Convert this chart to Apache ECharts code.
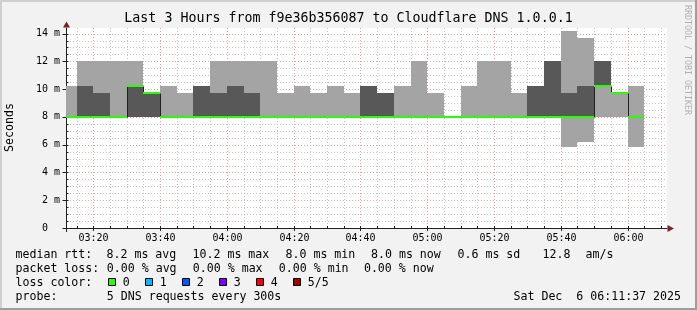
<!DOCTYPE html>
<html><head><meta charset="utf-8">
<script src="https://cdn.jsdelivr.net/npm/echarts@6/dist/echarts.min.js"></script>
<style>html,body{margin:0;padding:0;background:#f2f2f2;}#c{width:697px;height:310px;}</style>
</head><body><div id="c"></div>
<script>
// ---- data (5-minute RRD steps, value = end time of the step) ----
const times = ['03:15','03:20','03:25','03:30','03:35','03:40','03:45','03:50','03:55',
  '04:00','04:05','04:10','04:15','04:20','04:25','04:30','04:35','04:40','04:45','04:50','04:55',
  '05:00','05:05','05:10','05:15','05:20','05:25','05:30','05:35','05:40','05:45','05:50','05:55',
  '06:00','06:05'];
// sorted ping values (ms): p1 = fastest ... p5 = slowest, p3 = median
const p1 = [8,8,8,8,8,8,8,8,8,8, 8,8,8,8,8,8,8,8,8,8, 8,8,8,8,8,8,8,8,8,8, 5.8,6.2,8,8,5.8];
const p2 = [8,8,8,8,8,8,8,8,8,8, 8,8,8,8,8,8,8,8,8,8, 8,8,8,8,8,8,8,8,8,8, 8,8,10.2,9.7,8];
const p3 = [8,8,8,8,10.2,9.7,8,8,8,8, 8,8,8,8,8,8,8,8,8,8, 8,8,8,8,8,8,8,8,8,8, 8,8,10.2,9.7,8];
const p4 = [8,10.2,9.7,8,10.2,9.7,8,8,10.2,9.7, 10.2,9.7,8,8,8,8,8,8,10.2,9.7, 8,8,8,8,8,8,8,8,10.2,12, 9.7,10.2,12,9.7,8];
const p5 = [10.2,12,12,12,12,9.7,10.2,9.7,10.2,12, 12,12,12,9.7,10.2,9.7,10.2,9.7,10.2,9.7, 10.2,12,9.7,8,10.2,12,12,9.7,10.2,12, 14.2,13.7,12,9.7,10.2];
const loss = [0,0,0,0,0,0,0,0,0,0, 0,0,0,0,0,0,0,0,0,0, 0,0,0,0,0,0,0,0,0,0, 0,0,0,0,0];
const xTickLabels = ['03:20','03:40','04:00','04:20','04:40','05:00','05:20','05:40','06:00'];
const yTicks = [0,2,4,6,8,10,12,14];
const lossLabels = ['0','1','2','3','4','5/5'];
const lossColors = ['#26ff00','#00b8ff','#0059ff','#7e00ff','#ff0000','#a10000'];
const title = 'Last 3 Hours from f9e36b356087 to Cloudflare DNS 1.0.0.1';
const rttStats = ['median rtt:','8.2 ms avg','10.2 ms max','8.0 ms min','8.0 ms now','0.6 ms sd','12.8','am/s'];
const lossStats = ['packet loss:','0.00 % avg','0.00 % max','0.00 % min','0.00 % now'];
const probeText = ['probe:','5 DNS requests every 300s'];
const dateText = 'Sat Dec  6 06:11:37 2025';

// ---- helpers ----
const STEP = 5;
function toMin(s){const a=s.split(':').map(Number);return a[0]*60+a[1];}
const X_MIN = toMin('03:11') + 49/60, X_MAX = X_MIN + 180;
const MONO = '"DejaVu Sans Mono", monospace';
const AXIS = '#1f1f1f', MGRID = '#eb9c9c', GRID = '#c4c4c4';
const DASH = [1,2];

const smokeData = times.map((t,i)=>[toMin(t), p1[i], p2[i], p3[i], p4[i], p5[i], loss[i]]);
const vGrid = [];
for (let m = 195; m <= 370; m += 5) {
  const lab = xTickLabels.find(s => toMin(s) === m);
  vGrid.push([m, 0, lab ? 1 : 0, lab || '']);
}
const hGrid = [];
for (let v = 0; v <= 14.0001; v += 0.5) hGrid.push([X_MIN, v, yTicks.indexOf(v) >= 0 ? 1 : 0]);

function bucketX(params, api){
  const cs = params.coordSys, t1 = api.value(0);
  let xa = Math.round(api.coord([t1-STEP, 0])[0]);
  let xb = Math.round(api.coord([t1, 0])[0]);
  xa = Math.max(xa, cs.x); xb = Math.min(xb, cs.x + cs.width);
  return [xa, xb];
}

const chart = echarts.init(document.getElementById('c'), null, {renderer:'canvas'});

const legendX1 = [16,107,193,286,371.5,458,543,586];
const legendX2 = [16,107.3,193.3,279.3,364.4];
const boxX = [108.5,145.5,182.5,219.5,256.5,293.5];
const graphics = [];
function txt(x,y,s,opt){
  opt = opt || {};
  graphics.push({type:'text', x:x, y:y, rotation: opt.rot || 0, silent:true, z:10,
    style:{text:s, x:0, y:0, font:(opt.size||11.6)+'px '+MONO, fill:opt.fill||'#000',
      textAlign:opt.align||'left', textVerticalAlign:'middle'}});
}
txt(348.5,19,title,{size:13.3,align:'center'});
txt(10,127.5,'Seconds',{rot:Math.PI/2,align:'center'});
txt(687,60,'RRDTOOL / TOBI OETIKER',{rot:-Math.PI/2,align:'center',size:8.3,fill:'#b0b0b0'});
rttStats.forEach((s,i)=>txt(legendX1[i]-0.5,254.5,s));
lossStats.forEach((s,i)=>txt(legendX2[i]-0.5,268.5,s));
txt(15.5,282.5,'loss color:');
lossLabels.forEach((s,i)=>{
  graphics.push({type:'rect', silent:true, z:10, shape:{x:boxX[i], y:278.5, width:7, height:7},
    style:{fill:lossColors[i], stroke:'#000', lineWidth:1}});
  txt(boxX[i]+14.3,282.5,s);
});
txt(15.5,296.5,probeText[0]);
txt(106.8,296.5,probeText[1]);
txt(681,296.5,dateText,{align:'right'});
// frame shading + axis arrows
graphics.push({type:'rect',silent:true,z:9,shape:{x:0,y:0,width:697,height:2},style:{fill:'#cfcfcf'}});
graphics.push({type:'rect',silent:true,z:9,shape:{x:0,y:0,width:2,height:310},style:{fill:'#cfcfcf'}});
graphics.push({type:'rect',silent:true,z:9,shape:{x:0,y:308,width:697,height:2},style:{fill:'#9e9e9e'}});
graphics.push({type:'rect',silent:true,z:9,shape:{x:695,y:0,width:2,height:310},style:{fill:'#9e9e9e'}});
graphics.push({type:'polygon',silent:true,z:9,shape:{points:[[667.5,225],[667.5,232],[674,228.5]]},style:{fill:'#801f1f'}});
graphics.push({type:'polygon',silent:true,z:9,shape:{points:[[63,27.5],[70,27.5],[66.5,21.5]]},style:{fill:'#801f1f'}});
graphics.push({type:'line',silent:true,z:9,shape:{x1:66.5,y1:228,x2:66.5,y2:232},style:{stroke:AXIS,lineWidth:1}});

const option = {
  animation:false,
  backgroundColor:'#f2f2f2',
  grid:{left:66, top:28, width:601, height:200, show:true, backgroundColor:'#ffffff', borderWidth:0, containLabel:false},
  xAxis:{type:'value', min:X_MIN, max:X_MAX,
    axisLine:{show:true, lineStyle:{color:AXIS, width:1}},
    axisTick:{show:false}, axisLabel:{show:false}, splitLine:{show:false}},
  yAxis:{type:'value', min:0, max:14.4, interval:2,
    axisLine:{show:true, lineStyle:{color:AXIS, width:1}},
    axisTick:{show:false}, splitLine:{show:false},
    axisLabel:{margin:6, color:'#000', fontFamily:MONO, fontSize:10,
      formatter:function(v){ if (Math.abs(v/2 - Math.round(v/2)) > 1e-6) return ''; return v === 0 ? '0  ' : (v + ' m'); }}},
  graphic:{elements:graphics},
  series:[
    { // horizontal grid
      type:'custom', z:1, silent:true, data:hGrid,
      renderItem:function(params, api){
        const cs = params.coordSys, v = api.value(1), major = api.value(2) === 1;
        const y = Math.round(api.coord([X_MIN, v])[1]) + 0.5;
        const ch = [];
        if (v > 0) ch.push({type:'line', shape:{x1:cs.x+1, y1:y, x2:cs.x+cs.width, y2:y},
          style:{stroke: major ? MGRID : GRID, lineWidth:1, lineDash:DASH}});
        ch.push({type:'line', shape:{x1:cs.x + (major ? -3.5 : 0), y1:y, x2:cs.x+2.5, y2:y}, style:{stroke:AXIS, lineWidth:1}});
        return {type:'group', children:ch};
      }
    },
    { // vertical grid + time labels
      type:'custom', z:1, silent:true, data:vGrid,
      renderItem:function(params, api){
        const cs = params.coordSys, major = api.value(2) === 1;
        const x = Math.round(api.coord([api.value(0), 0])[0]) + 0.5;
        const yb = cs.y + cs.height;
        const ch = [
          {type:'line', shape:{x1:x, y1:cs.y, x2:x, y2:yb-1}, style:{stroke: major ? MGRID : GRID, lineWidth:1, lineDash:DASH}},
          {type:'line', shape:{x1:x, y1:yb-2, x2:x, y2:yb + (major ? 3 : 0)}, style:{stroke:AXIS, lineWidth:1}}
        ];
        if (major) ch.push({type:'text', style:{text: vGrid[params.dataIndex][3], x:x, y:yb+10,
          font:'10px '+MONO, fill:'#000', textAlign:'center', textVerticalAlign:'middle'}});
        return {type:'group', children:ch};
      }
    },
    { // smoke: outer range p1..p5 light, inner range p2..p4 dark
      type:'custom', z:2, silent:true, data:smokeData,
      renderItem:function(params, api){
        const xr = bucketX(params, api), t = api.value(0);
        const Y = v => Math.round(api.coord([t, v])[1]);
        const y1 = Y(api.value(1)), y2 = Y(api.value(2)), y4 = Y(api.value(4)), y5 = Y(api.value(5));
        return {type:'group', children:[
          {type:'rect', shape:{x:xr[0], y:y5, width:xr[1]-xr[0], height:y1-y5}, style:{fill:'#a4a4a4'}},
          {type:'rect', shape:{x:xr[0], y:y4, width:xr[1]-xr[0], height:y2-y4}, style:{fill:'#585858'}}
        ]};
      }
    },
    { // median line (black steps)
      type:'custom', z:3, silent:true, data:smokeData,
      renderItem:function(params, api){
        const i = params.dataIndex, xr = bucketX(params, api), t = api.value(0);
        const ym = Math.round(api.coord([t, api.value(3)])[1]) + 0.5;
        const pts = [];
        if (i > 0) {
          const yp = Math.round(api.coord([t, p3[i-1]])[1]) + 0.5;
          pts.push([xr[0]+0.5, yp]); pts.push([xr[0]+0.5, ym]);
        } else pts.push([xr[0], ym]);
        pts.push([xr[1], ym]);
        return {type:'polyline', shape:{points:pts}, style:{stroke:'#202020', lineWidth:1, fill:null}};
      }
    },
    { // median band coloured by loss
      type:'custom', z:4, silent:true, data:smokeData,
      renderItem:function(params, api){
        const xr = bucketX(params, api), t = api.value(0);
        const ym = Math.round(api.coord([t, api.value(3)])[1]);
        return {type:'rect', shape:{x:xr[0], y:ym-1, width:xr[1]-xr[0], height:2}, style:{fill:lossColors[api.value(6)]}};
      }
    }
  ]
};
chart.setOption(option);
</script></body></html>
